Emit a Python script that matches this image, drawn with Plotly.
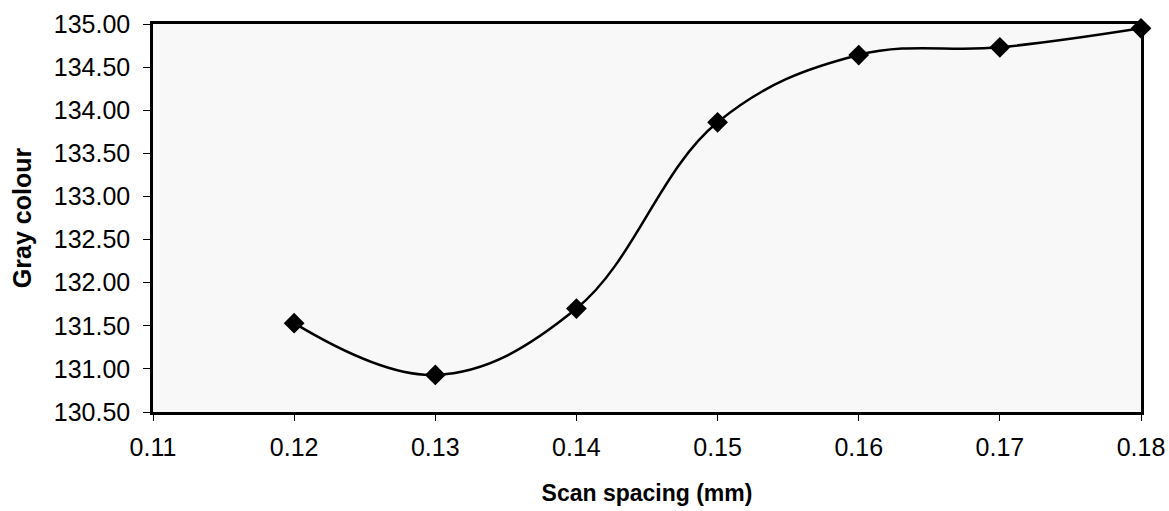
import plotly.graph_objects as go

scan_spacing = [0.12, 0.13, 0.14, 0.15, 0.16, 0.17, 0.18]
gray_colour = [131.53, 130.93, 131.70, 133.86, 134.64, 134.73, 134.95]
x_ticks = [0.11, 0.12, 0.13, 0.14, 0.15, 0.16, 0.17, 0.18]
y_ticks = [130.5, 131.0, 131.5, 132.0, 132.5, 133.0, 133.5, 134.0, 134.5, 135.0]

fig = go.Figure()
fig.add_trace(go.Scatter(
    x=scan_spacing, y=gray_colour, mode="lines+markers",
    line=dict(color="black", width=2.5, shape="spline", smoothing=1.1),
    marker=dict(symbol="diamond", size=16, color="black"),
    showlegend=False, cliponaxis=False,
))

font = "Liberation Sans, Arial, sans-serif"
fig.update_layout(
    width=1169, height=511,
    margin=dict(l=153, r=28, t=24, b=99),
    paper_bgcolor="white", plot_bgcolor="#f8f8f8",
    font=dict(family=font, size=25, color="black"),
)
fig.update_xaxes(
    range=[0.11, 0.18], tickvals=x_ticks, ticktext=[f"{v:.2f}" for v in x_ticks],
    tickfont=dict(size=25, family=font), automargin=False,
    showgrid=False, zeroline=False, showline=True, linecolor="black", linewidth=2.5,
    mirror=True, ticks="outside", ticklen=6, tickcolor="black", tickwidth=1,
    ticklabelstandoff=5,
    title=dict(text="<b>Scan spacing (mm)</b>", font=dict(size=23, family=font), standoff=26),
)
fig.update_yaxes(
    range=[130.5, 135.0], tickvals=y_ticks, ticktext=[f"{v:.2f}" for v in y_ticks],
    tickfont=dict(size=25, family=font), automargin=False,
    showgrid=False, zeroline=False, showline=True, linecolor="black", linewidth=2.5,
    mirror=True, ticks="outside", ticklen=7, tickcolor="black", tickwidth=1,
    ticklabelstandoff=8,
    title=dict(text="<b>Gray colour</b>", font=dict(size=25, family=font), standoff=16),
)

fig.write_html(
    "out.html",
    config={"displayModeBar": False},
    post_script="document.body.style.margin='0';document.body.style.padding='0';",
)
